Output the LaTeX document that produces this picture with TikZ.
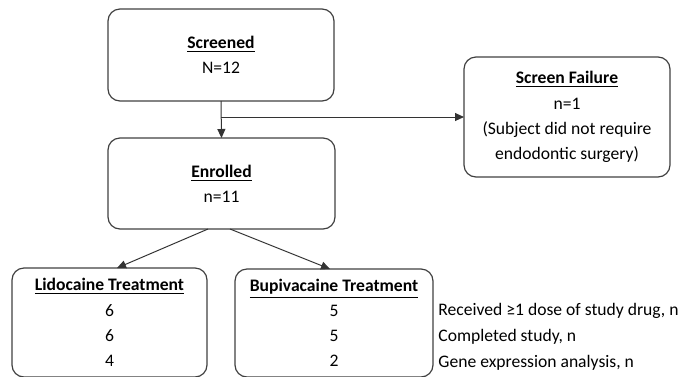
\documentclass[tikz,border=0pt]{standalone}
\usepackage{fontspec}
\setmainfont{Carlito}
\usetikzlibrary{arrows.meta}

\tikzset{
  flowbox/.style={draw=black!75, line width=0.6pt, rounded corners=6pt,
    align=center, inner sep=0pt, outer sep=0pt,
    font=\fontsize{8.8}{12.6}\selectfont},
  arr/.style={draw=black!80, line width=0.5pt, -{Triangle[length=4.5pt,width=4pt]}}
}

\begin{document}
\begin{tikzpicture}[x=0.5pt, y=-0.5pt]
  % page frame
  \clip (0,0) rectangle (684,376);

  % top of the flow
  \node[flowbox, minimum width=113pt, minimum height=46pt] (screened) at (221,55)
    {\textbf{\underline{Screened}}\\N=12};
  \node[flowbox, minimum width=113.5pt, minimum height=45.5pt] (enrolled) at (221.5,183.5)
    {\textbf{\underline{Enrolled}}\\n=11};
  \node[flowbox, minimum width=103pt, minimum height=60pt] (fail) at (567,117)
    {\textbf{\underline{Screen Failure}}\\n=1\\(Subject did not require\\endodontic surgery)};

  % treatment arms
  \node[flowbox, minimum width=97.5pt, minimum height=54.5pt] (lido) at (109.5,322.5)
    {\textbf{\underline{Lidocaine Treatment}}\\6\\6\\4};
  \node[flowbox, minimum width=99pt, minimum height=54pt] (bupi) at (334,323)
    {\textbf{\underline{Bupivacaine Treatment}}\\5\\5\\2};

  % row labels
  \node[align=left, anchor=west, inner sep=0pt, font=\fontsize{8.8}{12.9}\selectfont] (rows) at (438,337)
    {Received ≥1 dose of study drug, n\\Completed study, n\\Gene expression analysis, n};

  % connectors
  \coordinate (split) at (screened.south |- fail.west);
  \draw[arr] (screened.south) -- (enrolled.north);
  \draw[arr] (split) -- (fail.west);
  \draw[arr] ([xshift=-6.75pt]enrolled.south) -- ([xshift=3.75pt]lido.north);
  \draw[arr] ([xshift=4.25pt]enrolled.south) -- ([xshift=-2pt]bupi.north);
\end{tikzpicture}
\end{document}
